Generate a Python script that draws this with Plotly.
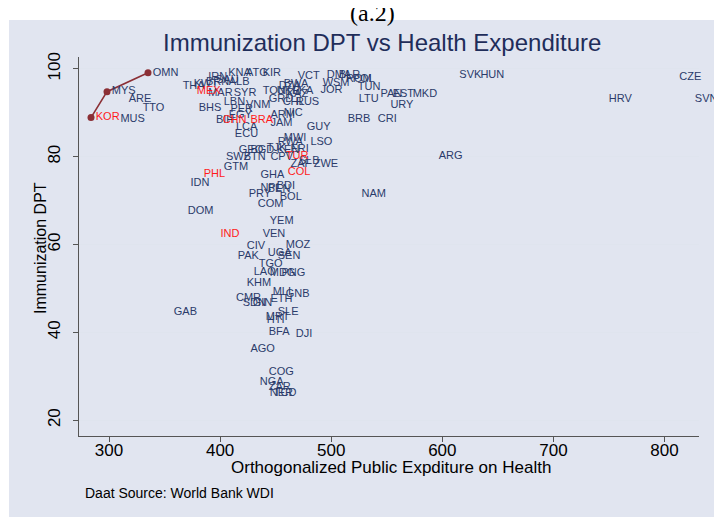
import plotly.graph_objects as go

# Country labels (navy)
codes = ["MYS","OMN","ARE","TTO","MUS","THA","KWT","IRN","KNA","ATG","KIR","VCT","DMA","BLR","ROM","POL",
         "WSM","JOR","TUN","PAN","EST","MKD","LTU","URY","BRB","CRI","SVK","HUN","CZE","HRV","SVN","ARG","NAM",
         "BRN","SAU","ALB","MAR","SYR","LBN","VNM","BHS","PER","EGY","BIH","LCA","ECU","ARM","NIC","JAM","GUY",
         "TON","UKR","KAZ","LKA","GRD","RUS","CHL","BWA","DZA","MWI","RWA","LSO","GEO","BGD","TJK","ERI","KEN",
         "SWZ","BTN","GTM","CPV","ZAF","SLB","ZWE","IDN","GHA","BDI","NPL","BEN","PRY","BOL","COM","DOM","YEM",
         "VEN","CIV","MOZ","PAK","UGA","SEN","TGO","LAO","MDG","PNG","KHM","MLI","GNB","CMR","SDN","GIN","ETH",
         "GAB","SLE","MRT","HTI","BFA","DJI","AGO","COG","NGA","ZAR","NER","TCD"]
expend = [298.2,335.1,313.5,326.0,306.0,362.0,372.0,385.0,403.0,419.0,434.0,465.6,491.7,502.5,509.0,515.0,
          488.0,486.0,519.6,540.0,551.0,569.0,520.5,549.0,510.6,537.6,611.0,630.0,809.0,745.5,823.0,592.5,523.0,
          383.0,392.0,403.5,385.0,408.0,399.0,419.0,376.5,405.0,403.5,392.0,410.0,409.0,441.0,453.0,441.0,473.7,
          434.0,446.7,455.7,461.0,439.5,464.0,452.0,453.0,448.5,453.0,447.6,477.0,412.5,423.0,437.7,459.0,446.7,
          401.0,417.0,399.0,441.0,459.0,466.5,480.0,369.0,432.0,446.7,432.0,438.6,421.5,449.4,429.6,366.6,440.4,
          434.0,419.7,454.8,411.6,438.6,447.6,430.5,426.0,440.4,451.0,419.7,443.0,454.8,410.0,416.0,425.0,441.0,
          354.0,447.6,436.8,437.7,439.5,463.8,423.0,439.5,431.4,439.5,440.4,444.0]
dpt = [94.8,99.1,93.0,91.1,88.6,96.1,96.6,98.2,98.9,98.9,98.9,98.4,98.6,98.6,97.7,97.7,
       96.8,95.2,95.9,94.3,94.3,94.3,93.0,91.8,88.6,88.6,98.6,98.6,98.0,93.0,93.0,80.0,71.4,
       97.0,97.5,97.0,94.5,94.5,92.3,91.8,91.1,90.7,89.5,88.2,86.6,85.0,89.5,89.8,87.7,86.6,
       94.8,94.8,94.3,94.8,93.0,92.3,92.3,96.6,96.1,84.3,83.4,83.2,81.4,81.4,82.0,81.6,81.4,
       79.8,79.8,77.7,79.8,78.2,78.9,78.2,73.9,75.7,73.2,72.9,72.7,71.4,70.7,69.1,67.5,65.2,
       62.3,59.5,59.8,57.3,57.95,57.3,55.4,53.6,53.4,53.4,51.1,49.1,48.6,47.7,46.6,46.6,47.5,
       44.5,44.5,43.4,42.7,40.0,39.5,36.1,30.9,28.6,27.5,26.1,26.1]

# Highlighted countries (red labels)
red_codes = ["KOR","MEX","CHN","BRA","TUR","COL","PHL","IND"]
red_expend = [283.8,374.7,398.0,423.0,454.8,456.6,381.0,396.0]
red_dpt = [88.9,94.8,88.2,88.2,80.0,76.4,75.9,62.3]

# Connected line
line_codes = ["KOR","MYS","OMN"]
line_expend = [283.8,298.2,335.1]
line_dpt = [88.9,94.8,99.1]

x_ticks = [300,400,500,600,700,800]
y_ticks = [20,40,60,80,100]

NAVY = "#2b3b6a"
FONT = "Liberation Sans, Arial"

fig = go.Figure()
fig.add_trace(go.Scatter(x=line_expend, y=line_dpt, mode="lines+markers",
                         line=dict(color="#8b2f35", width=1.6),
                         marker=dict(color="#8b2f35", size=7), hoverinfo="skip", showlegend=False))
fig.add_trace(go.Scatter(x=expend, y=dpt, text=codes, mode="markers+text", textposition="middle right",
                         marker=dict(size=6, opacity=0),
                         textfont=dict(color=NAVY, size=11, family=FONT),
                         showlegend=False, cliponaxis=False))
fig.add_trace(go.Scatter(x=red_expend, y=red_dpt, text=red_codes, mode="markers+text", textposition="middle right",
                         marker=dict(size=6, opacity=0),
                         textfont=dict(color="#ff1a1a", size=11, family=FONT),
                         showlegend=False, cliponaxis=False))

OFF = 8  # page body margin in the browser
W, H = 722, 517
# target screen positions of the plot area
SL, ST, SR, SB = 79, 57, 699, 436
L, T = SL - OFF, ST - OFF
R, B = W - (SR - OFF), H - (SB - OFF)
pw, ph = W - L - R, H - T - B

def px_x(p):
    return (p - OFF - L) / pw

def px_y(p):
    return (H - B - (p - OFF)) / ph

fig.add_shape(type="rect", xref="paper", yref="paper", x0=px_x(9), x1=px_x(760), y0=px_y(560), y1=px_y(20),
              fillcolor="#e1e5f0", line=dict(width=0), layer="below")

fig.update_layout(
    width=W, height=H, margin=dict(l=L, r=R, t=T, b=B, autoexpand=False),
    paper_bgcolor="white", plot_bgcolor="white",
    font=dict(family=FONT, color="black"),
    xaxis=dict(range=[273, 831], tickvals=x_ticks, showgrid=False, zeroline=False, automargin=False,
               showline=True, linecolor="#555555", linewidth=1, ticks="outside", ticklen=5,
               ticklabelstandoff=-6,
               tickcolor="#555555", tickfont=dict(size=17, family=FONT)),
    yaxis=dict(range=[16.4, 102.7], tickvals=y_ticks, showgrid=True, gridcolor="#dfe4ee", gridwidth=1,
               zeroline=False, showline=True, linecolor="#555555", linewidth=1, ticks="outside", ticklen=5,
               automargin=False, ticklabelstandoff=6,
               tickcolor="#555555", tickangle=-90, tickfont=dict(size=17, family=FONT)),
)

fig.add_annotation(text="Immunization DPT vs Health Expenditure", xref="paper", yref="paper",
                   x=px_x(382), y=px_y(42), xanchor="center", yanchor="middle", showarrow=False,
                   font=dict(size=24, color="#1f2d5a", family=FONT))
fig.add_annotation(text="Orthogonalized Public Expditure on Health", xref="paper", yref="paper",
                   x=px_x(391), y=px_y(467), xanchor="center", yanchor="middle", showarrow=False,
                   font=dict(size=17, family=FONT))
fig.add_annotation(text="Immunization DPT", xref="paper", yref="paper", textangle=-90,
                   x=px_x(40), y=px_y(248), xanchor="center", yanchor="middle", showarrow=False,
                   font=dict(size=16, family=FONT))
fig.add_annotation(text="Daat Source: World Bank WDI", xref="paper", yref="paper", x=px_x(83), y=px_y(493),
                   xanchor="left", yanchor="middle", showarrow=False, font=dict(size=14, family=FONT))
fig.add_annotation(text="(a.2)", xref="paper", yref="paper", x=px_x(372), y=px_y(28),
                   xanchor="center", yanchor="bottom", showarrow=False,
                   font=dict(size=24, family="Liberation Serif", color="black"))

fig.write_html("out.html")
